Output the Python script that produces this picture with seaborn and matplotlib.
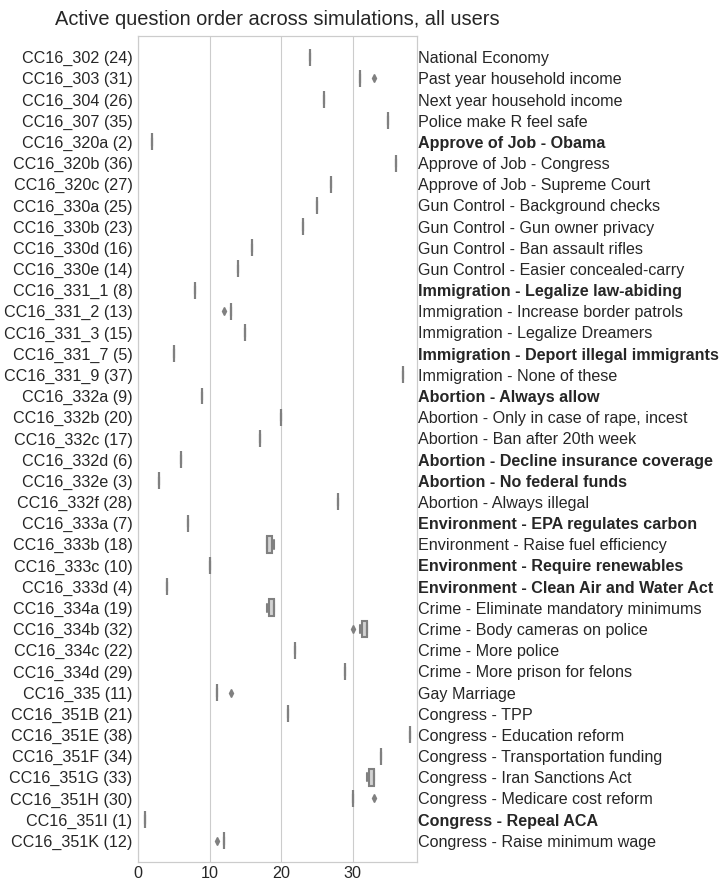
import pandas as pd
import matplotlib
matplotlib.use('Agg')
import matplotlib.pyplot as plt
import seaborn as sns

# question codes, their active position and readable names
codes = ['CC16_302', 'CC16_303', 'CC16_304', 'CC16_307', 'CC16_320a', 'CC16_320b',
         'CC16_320c', 'CC16_330a', 'CC16_330b', 'CC16_330d', 'CC16_330e', 'CC16_331_1',
         'CC16_331_2', 'CC16_331_3', 'CC16_331_7', 'CC16_331_9', 'CC16_332a', 'CC16_332b',
         'CC16_332c', 'CC16_332d', 'CC16_332e', 'CC16_332f', 'CC16_333a', 'CC16_333b',
         'CC16_333c', 'CC16_333d', 'CC16_334a', 'CC16_334b', 'CC16_334c', 'CC16_334d',
         'CC16_335', 'CC16_351B', 'CC16_351E', 'CC16_351F', 'CC16_351G', 'CC16_351H',
         'CC16_351I', 'CC16_351K']
positions = [24, 31, 26, 35, 2, 36, 27, 25, 23, 16, 14, 8, 13, 15, 5, 37, 9, 20, 17, 6,
             3, 28, 7, 18, 10, 4, 19, 32, 22, 29, 11, 21, 38, 34, 33, 30, 1, 12]
names = ['National Economy', 'Past year household income', 'Next year household income',
         'Police make R feel safe', 'Approve of Job - Obama', 'Approve of Job - Congress',
         'Approve of Job - Supreme Court', 'Gun Control - Background checks',
         'Gun Control - Gun owner privacy', 'Gun Control - Ban assault rifles',
         'Gun Control - Easier concealed-carry', 'Immigration - Legalize law-abiding',
         'Immigration - Increase border patrols', 'Immigration - Legalize Dreamers',
         'Immigration - Deport illegal immigrants', 'Immigration - None of these',
         'Abortion - Always allow', 'Abortion - Only in case of rape, incest',
         'Abortion - Ban after 20th week', 'Abortion - Decline insurance coverage',
         'Abortion - No federal funds', 'Abortion - Always illegal',
         'Environment - EPA regulates carbon', 'Environment - Raise fuel efficiency',
         'Environment - Require renewables', 'Environment - Clean Air and Water Act',
         'Crime - Eliminate mandatory minimums', 'Crime - Body cameras on police',
         'Crime - More police', 'Crime - More prison for felons', 'Gay Marriage',
         'Congress - TPP', 'Congress - Education reform', 'Congress - Transportation funding',
         'Congress - Iran Sanctions Act', 'Congress - Medicare cost reform',
         'Congress - Repeal ACA', 'Congress - Raise minimum wage']

n_sims = 10
# (position, number of simulations) for questions whose position moved
variations = {
    'CC16_303': [(31, 9), (33, 1)],
    'CC16_331_2': [(13, 9), (12, 1)],
    'CC16_333b': [(18, 7), (19, 3)],
    'CC16_334a': [(18, 3), (19, 7)],
    'CC16_334b': [(30, 1), (31, 2), (32, 7)],
    'CC16_335': [(11, 9), (13, 1)],
    'CC16_351G': [(32, 3), (33, 7)],
    'CC16_351H': [(30, 9), (33, 1)],
    'CC16_351K': [(12, 9), (11, 1)],
}

labels = [f'{c} ({p})' for c, p in zip(codes, positions)]
rows = []
for c, p, lab in zip(codes, positions, labels):
    for val, cnt in variations.get(c, [(p, n_sims)]):
        rows += [{'question': lab, 'order': val}] * cnt
df = pd.DataFrame(rows)

sns.set_style('whitegrid')
plt.rcParams['font.family'] = ['Liberation Sans', 'DejaVu Sans']

fig = plt.figure(figsize=(7.23, 8.88), dpi=100)
ax = fig.add_axes([0.1909, 0.0293, 0.3859, 0.9302])
sns.boxplot(data=df, x='order', y='question', order=labels, ax=ax,
            color='lightgray', linecolor='#808080', linewidth=1.5, width=0.8,
            flierprops=dict(marker='d', markerfacecolor='#808080',
                            markeredgecolor='#808080', markersize=4))
ax.set_xlim(0, 39)
ax.set_ylim(len(labels), -1)
ax.set_xticks([0, 10, 20, 30])
ax.set_xlabel('')
ax.set_ylabel('')
ax.tick_params(axis='both', labelsize=11.6, length=0)
ax.tick_params(axis='y', pad=4)
ax.tick_params(axis='x', pad=3)
ax.set_title('Active question order across simulations, all users', fontsize=14.4, pad=8)

ax2 = ax.twinx()
ax2.set_ylim(ax.get_ylim())
ax2.set_yticks(range(len(names)))
ax2.set_yticklabels(names)
ax2.tick_params(axis='y', labelsize=11.6, length=0, pad=1)
ax2.grid(False)
for tl, p in zip(ax2.get_yticklabels(), positions):
    if p <= 10:
        tl.set_fontweight('bold')

fig.savefig('out.png', dpi=100)
